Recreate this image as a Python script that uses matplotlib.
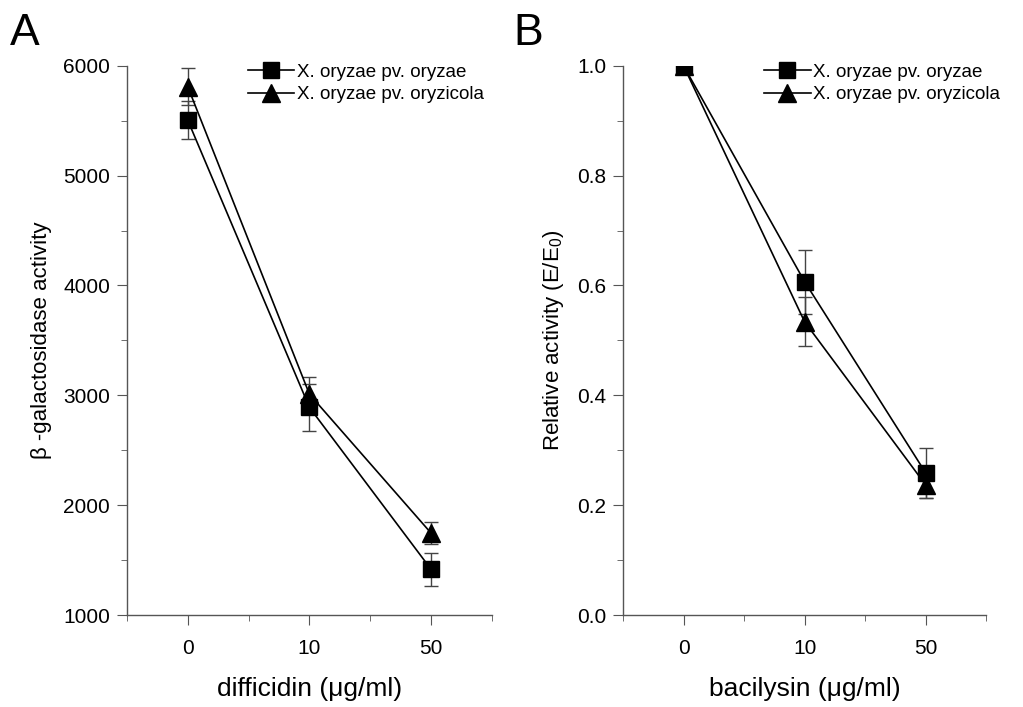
import numpy as np
import matplotlib
matplotlib.use("Agg")
import matplotlib.pyplot as plt
from matplotlib.ticker import MultipleLocator, FixedLocator, FormatStrFormatter

plt.rcParams['font.family'] = ['Liberation Sans', 'DejaVu Sans']

# data
doses = ['0', '10', '50']
series = ['X. oryzae pv. oryzae', 'X. oryzae pv. oryzicola']

diff_oryzae = [5505, 2890, 1415]
diff_oryzae_err = [170, 215, 150]
diff_oryzicola = [5810, 3010, 1745]
diff_oryzicola_err = [165, 155, 100]

bac_oryzae = [1.0, 0.607, 0.259]
bac_oryzae_err = [0.0, 0.058, 0.045]
bac_oryzicola = [1.0, 0.534, 0.237]
bac_oryzicola_err = [0.0, 0.045, 0.024]

fig = plt.figure(figsize=(10.23, 7.07), dpi=100)
axA = fig.add_axes([0.124, 0.130, 0.357, 0.777])
axB = fig.add_axes([0.609, 0.130, 0.355, 0.777])

def draw(ax, y1, e1, y2, e2, legx):
    x = np.arange(len(doses))
    h1 = ax.errorbar(x, y1, yerr=e1, color='k', ecolor='#444444', elinewidth=1,
                     capsize=5, capthick=1, marker='s', markersize=11, lw=1.2)
    h2 = ax.errorbar(x, y2, yerr=e2, color='k', ecolor='#444444', elinewidth=1,
                     capsize=5, capthick=1, marker='^', markersize=13, lw=1.2)
    ax.set_xlim(-0.5, 2.5)
    ax.set_xticks(x)
    ax.set_xticklabels(doses)
    ax.xaxis.set_minor_locator(FixedLocator([-0.5, 0.5, 1.5, 2.5]))
    for s in ['top', 'right']:
        ax.spines[s].set_visible(False)
    for s in ['left', 'bottom']:
        ax.spines[s].set_color('#555555')
        ax.spines[s].set_linewidth(1)
    ax.tick_params(which='major', length=7, color='#555555', labelsize=15, pad=5)
    ax.tick_params(which='minor', length=4, color='#555555')
    ax.tick_params(axis='x', which='major', pad=10)
    # legend without the error bar glyphs
    ax.legend([h1.lines[0], h2.lines[0]], series,
              loc='upper left', bbox_to_anchor=(legx, 1.017), frameon=False,
              fontsize=13.5, handlelength=2.5, handletextpad=0.15,
              labelspacing=0.28, borderaxespad=0)

draw(axA, diff_oryzae, diff_oryzae_err, diff_oryzicola, diff_oryzicola_err, 0.31)
axA.set_ylim(1000, 6000)
axA.yaxis.set_major_locator(MultipleLocator(1000))
axA.yaxis.set_minor_locator(MultipleLocator(500))
axA.set_ylabel('β -galactosidase activity', fontsize=16, labelpad=8)
axA.set_xlabel('difficidin (μg/ml)', fontsize=19, labelpad=14)

draw(axB, bac_oryzae, bac_oryzae_err, bac_oryzicola, bac_oryzicola_err, 0.367)
axB.set_ylim(0.0, 1.0)
axB.yaxis.set_major_locator(MultipleLocator(0.2))
axB.yaxis.set_minor_locator(MultipleLocator(0.1))
axB.yaxis.set_major_formatter(FormatStrFormatter('%.1f'))
axB.set_ylabel('Relative activity (E/E$_\\mathregular{0}$)', fontsize=16, labelpad=8)
axB.set_xlabel('bacilysin (μg/ml)', fontsize=19, labelpad=14)

fig.text(0.01, 0.937, 'A', fontsize=32)
fig.text(0.502, 0.937, 'B', fontsize=32)

fig.savefig('out.png', dpi=100)
